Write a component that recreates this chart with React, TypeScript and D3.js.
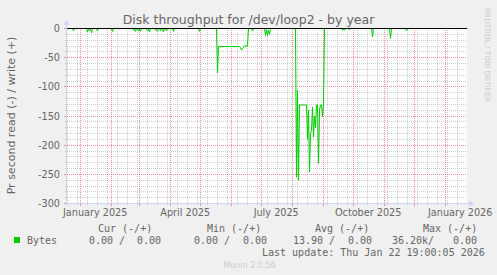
import React from 'react';
import * as d3 from 'd3';

const W = 497;
const H = 275;
const DAY = 86400000;
const END = Date.UTC(2026, 0, 22, 19, 0, 5);
const START = END - 400 * DAY;

const title = 'Disk throughput for /dev/loop2 - by year';
const yAxisLabel = 'Pr second read (-) / write (+)';
const yTicks = [0, -50, -100, -150, -200, -250, -300];
const yMinorStep = 10;
const xLabelText = ['January 2025', 'April 2025', 'July 2025', 'October 2025', 'January 2026'];
const xLabelYear = [2025, 2025, 2025, 2025, 2026];
const xLabelMonth = [0, 3, 6, 9, 0];

// read series (negative = read), days since start of the graph window
const readDay = [
  0, 5, 6, 7,
  19, 20, 21, 22, 23, 24, 25,
  29, 30, 31,
  44, 45, 46,
  65, 66, 67, 68, 69, 70, 71, 72, 73, 74,
  79, 80, 81, 82, 83,
  87, 88, 89, 90, 91, 92, 93, 94, 95, 96, 97, 98, 99, 100,
  105, 106, 107,
  131, 132, 133,
  149, 150, 151, 172, 173, 174, 175, 176, 177, 180, 181,
  184, 185, 186, 187,
  197, 198, 199, 200, 201, 202, 203,
  228, 229, 230, 231, 232, 238, 239, 240, 241, 242, 243, 244, 245, 246, 247, 248, 249, 250, 251, 252, 253, 254, 255, 256, 257,
  274, 275, 276, 277, 278,
  281, 282, 283,
  304, 305, 306,
  322, 323, 324,
  337, 338, 339, 340, 341,
  400,
];
const readValue = [
  0, 0, -4, 0,
  0, -6, -1, -3, -1, -7, 0,
  0, -4, 0,
  0, -5, 0,
  0, -3, -1, -5, 0, -1, -4, -1, -5, 0,
  0, -4, -1, -6, 0,
  0, -3, -1, -5, 0, 0, -4, 0, -1, -6, 0, -1, -4, 0,
  0, -5, 0,
  0, -5, 0,
  0, -76, -31, -31, -33, -37, -34, -33, -30, -30, 0,
  0, -4, -2, 0,
  0, -12, -2, -12, -3, -10, 0,
  0, -255, -106, -260, -131, -131, -131, -190, -140, -246, -180, -175, -135, -186, -150, -170, -131, -131, -231, -140, -131, -131, -151, -131, 0,
  0, -3, -1, -3, 0,
  0, -2, 0,
  0, -14, 0,
  0, -17, 0,
  0, -2, -3, -2, 0,
  0,
];

const legendHeaders = ['Cur (-/+)', 'Min (-/+)', 'Avg (-/+)', 'Max (-/+)'];
const legendRead = ['0.00 /', '0.00 /', '13.90 /', '36.20k/'];
const legendWrite = ['0.00', '0.00', '0.00', '0.00'];
const seriesName = 'Bytes';
const lastUpdate = 'Last update: Thu Jan 22 19:00:05 2026';
const version = 'Munin 2.0.56';
const watermark = 'RRDTOOL / TOBI OETIKER';

const PL = 67, PR = 467, PT = 28, PB = 203;
const SANS = '"DejaVu Sans", sans-serif';
const MONO = '"DejaVu Sans Mono", monospace';
const FONT = '#666666';
const GRID = 'rgba(143,143,143,0.42)';
const MGRID = 'rgba(222,79,79,0.6)';

export default function App() {
  const x = d3.scaleUtc().domain([new Date(START), new Date(END)]).range([PL, PR]);
  const y = d3.scaleLinear().domain([0, -300]).range([PT, PB]);
  const px = (v: number) => Math.round(v) + 0.5;

  const months = d3.utcMonth.range(new Date(START), new Date(END));
  const minorX: number[] = [];
  for (let t = d3.utcDay.ceil(new Date(START)).getTime(); t < END; t += 10 * DAY) minorX.push(t);
  const minorY: number[] = [];
  for (let v = 0; v >= -300; v -= yMinorStep) if (!yTicks.includes(v)) minorY.push(v);

  const pts: [number, number][] = readDay.map((d, i) => [d, readValue[i]]);
  const line = d3
    .line<[number, number]>()
    .x((d) => x(new Date(START + d[0] * DAY)) + 0.5)
    .y((d) => y(d[1]) + 0.5);

  const colHeadX = [98, 207, 315, 423];
  const colReadX = [89, 194, 293, 392];
  const colWriteEnd = [161, 267, 372, 477];
  const crisp = { shapeRendering: 'crispEdges' as const };

  return (
    <svg width={W} height={H} style={{ display: 'block', position: 'absolute', left: 0, top: 0 }}>
      <rect x={0} y={0} width={W} height={H} fill="#f0f0f0" />
      <rect x={PL} y={PT} width={PR - PL} height={PB - PT} fill="#ffffff" />
      {/* minor grid */}
      {minorY.map((v) => (
        <g key={'my' + v} {...crisp}>
          <line x1={PL} x2={PR} y1={px(y(v))} y2={px(y(v))} stroke={GRID} strokeDasharray="1,1" />
          <line x1={PL - 2} x2={PL} y1={px(y(v))} y2={px(y(v))} stroke={GRID} />
        </g>
      ))}
      {minorX.map((t) => (
        <g key={'mx' + t} {...crisp}>
          <line x1={px(x(new Date(t)))} x2={px(x(new Date(t)))} y1={PT} y2={PB} stroke={GRID} strokeDasharray="1,1" />
          <line x1={px(x(new Date(t)))} x2={px(x(new Date(t)))} y1={PB} y2={PB + 2} stroke={GRID} />
        </g>
      ))}
      {/* major grid */}
      {yTicks.map((v) => (
        <g key={'Y' + v}>
          <line x1={PL} x2={PR} y1={px(y(v))} y2={px(y(v))} stroke={MGRID} strokeDasharray="1,1" {...crisp} />
          <line x1={PL - 3} x2={PL} y1={px(y(v))} y2={px(y(v))} stroke={MGRID} {...crisp} />
          <text x={60} y={y(v) + 4} textAnchor="end" fontFamily={SANS} fontSize={9.7} fill={FONT}>
            {v}
          </text>
        </g>
      ))}
      {months.map((m) => (
        <g key={'M' + m.getTime()} {...crisp}>
          <line x1={px(x(m))} x2={px(x(m))} y1={PT} y2={PB} stroke={MGRID} strokeDasharray="1,1" />
          <line x1={px(x(m))} x2={px(x(m))} y1={PB} y2={PB + 3} stroke={MGRID} />
        </g>
      ))}
      {xLabelText.map((s, i) => (
        <text
          key={s}
          x={x(new Date(Date.UTC(xLabelYear[i], xLabelMonth[i], 1) + 15 * DAY))}
          y={216}
          textAnchor="middle"
          fontFamily={SANS}
          fontSize={9.7}
          fill={FONT}
        >
          {s}
        </text>
      ))}
      {/* data */}
      <path d={line(pts) || ''} fill="none" stroke="#00cc00" strokeWidth={1} />
      <line x1={PL} x2={PR} y1={px(y(0))} y2={px(y(0))} stroke="#000000" strokeWidth={1} {...crisp} />
      {/* axes */}
      <line x1={PL - 0.5} x2={PL - 0.5} y1={PB + 1} y2={PT - 4} stroke="#cfd6f8" {...crisp} />
      <path d={`M${PL - 3.5},${PT - 3} L${PL - 0.5},${PT - 8} L${PL + 2.5},${PT - 3} Z`} fill="#cfd6f8" />
      <line x1={PL - 1} x2={PR + 3} y1={PB + 0.5} y2={PB + 0.5} stroke="#cfd6f8" {...crisp} />
      <path d={`M${PR + 2},${PB - 2.5} L${PR + 7},${PB + 0.5} L${PR + 2},${PB + 3.5} Z`} fill="#cfd6f8" />
      {/* titles */}
      <text x={248.5} y={24} textAnchor="middle" fontFamily={SANS} fontSize={12.5} fill={FONT}>
        {title}
      </text>
      <text
        transform={`translate(15,${(PT + PB) / 2}) rotate(-90)`}
        textAnchor="middle"
        fontFamily={SANS}
        fontSize={11}
        fill={FONT}
      >
        {yAxisLabel}
      </text>
      <text
        transform={`translate(485,8) rotate(90)`}
        textAnchor="start"
        fontFamily={SANS}
        fontSize={7.3}
        fill="#cccccc"
      >
        {watermark}
      </text>
      {/* legend */}
      {legendHeaders.map((h, i) => (
        <text key={h} x={colHeadX[i]} y={231.5} fontFamily={MONO} fontSize={10} fill={FONT} style={{ whiteSpace: 'pre' }}>
          {h}
        </text>
      ))}
      <rect x={14} y={237} width={6} height={6} fill="#00cc00" />
      <text x={27} y={243.5} fontFamily={MONO} fontSize={10} fill={FONT}>
        {seriesName}
      </text>
      {legendRead.map((s, i) => (
        <text key={'r' + i} x={colReadX[i]} y={243.5} fontFamily={MONO} fontSize={10} fill={FONT}>
          {s}
        </text>
      ))}
      {legendWrite.map((s, i) => (
        <text key={'w' + i} x={colWriteEnd[i]} y={243.5} textAnchor="end" fontFamily={MONO} fontSize={10} fill={FONT}>
          {s}
        </text>
      ))}
      <text x={262} y={255.5} fontFamily={MONO} fontSize={10} fill={FONT}>
        {lastUpdate}
      </text>
      <text x={249.5} y={267.5} textAnchor="middle" fontFamily={SANS} fontSize={8} fill="#cccccc">
        {version}
      </text>
    </svg>
  );
}
